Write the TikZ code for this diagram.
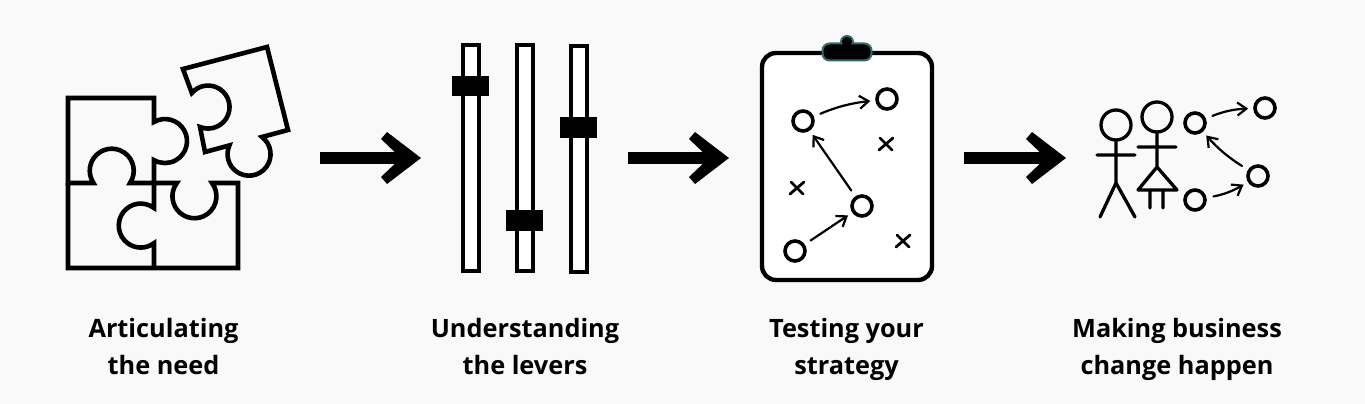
\documentclass[tikz,border=0pt]{standalone}
\usepackage{fontspec}
\setmainfont{Open Sans}[BoldFont={Open Sans Bold}]
\definecolor{bgc}{HTML}{F9F9F9}
\definecolor{tealc}{HTML}{2F6F6A}
\usetikzlibrary{arrows.meta}
\tikzset{
  ln/.style={line width=4.6pt,line join=miter,draw=black},
  thinarrow/.style={line width=2.2pt,-{Straight Barb[length=9pt,width=13pt,line width=2.2pt]},line cap=round,shorten <=7pt,shorten >=5pt},
  peg/.style={circle,draw=black,line width=3.6pt,fill=none,inner sep=0pt,minimum size=20pt},
  crossmark/.style={line width=2.8pt,line cap=round},
  slider/.style={line width=3.6pt,fill=white},
  person/.style={line width=3.3pt,line cap=round,line join=round},
  biglabel/.style={align=center,font=\fontsize{25.3}{37.5}\selectfont\bfseries,text=black,inner sep=0pt}
}
\newcommand{\crossat}[2]{\draw[crossmark] (#1-7,#2-6) -- (#1+7,#2+6) (#1-6,#2+6) -- (#1+6,#2-6);}
\begin{document}
\begin{tikzpicture}[x=1pt,y=1pt]
\useasboundingbox (0,0) rectangle (1365,404);
\fill[bgc] (0,0) rectangle (1365,404);
% puzzle
\draw[ln] (68,306) -- (154,306) -- (154,282) arc[start angle=120,end angle=-120,radius=22] -- (154,221) -- (130,221) arc[start angle=-34,end angle=214,radius=22] -- (68,221) -- cycle;
\draw[ln] (68,221) -- (68,136) -- (238,136) -- (238,221) -- (212,221) arc[start angle=37,end angle=-217,radius=22] -- (154,221) -- (154,196) arc[start angle=53,end angle=307,radius=22] -- (154,136);
\draw[ln] (183,335) -- (267,357) -- (288,274) -- (262,267) arc[start angle=53,end angle=-204,radius=21.5] -- (205,252) -- (200,277) arc[start angle=-112,end angle=139,radius=21.5] -- cycle;
% sliders
\draw[slider] (463,133) rectangle (479,359);
\draw[slider] (517,133) rectangle (533,359);
\draw[slider] (571,132) rectangle (587,358);
\fill (452,308) rectangle (489,328);
\fill (506,173) rectangle (543,194);
\fill (560,266) rectangle (597,287);
% clipboard
\draw[line width=4.4pt,fill=white,rounded corners=14pt] (762,124) rectangle (932,351);
\draw[tealc,line width=2pt,fill=black] (847,362) circle (6pt);
\draw[tealc,line width=2pt,fill=black,rounded corners=7pt] (822.5,343.5) rectangle (871.5,360.5);
\fill[black] (847,362) circle (5pt);
\node[peg] (a) at (803,283) {};
\node[peg] (b) at (887,305) {};
\node[peg] (c) at (862,198) {};
\node[peg] (d) at (795,153) {};
\draw[thinarrow] (a) to[bend left=8] (b);
\draw[thinarrow] (c) -- (a);
\draw[thinarrow] (d) -- (c);
\crossat{886}{260}
\crossat{797}{216}
\crossat{903}{163}
% people
\draw[person] (1116,279) circle (15pt);
\draw[person] (1157,287) circle (15pt);
\draw[person] (1116,264) -- (1116,221) (1097,249) -- (1135,249) (1100,187) -- (1116,221) -- (1135,187);
\draw[person] (1157,272) -- (1157,237) (1138,257) -- (1176,257) (1157,237) -- (1138,214) -- (1177,214) -- cycle (1150,214) -- (1150,196) (1163,214) -- (1163,196);
\node[peg] (e) at (1195,281) {};
\node[peg] (f) at (1265,296) {};
\node[peg] (g) at (1258,228) {};
\node[peg] (h) at (1195,204) {};
\draw[thinarrow] (e) to[bend left=10] (f);
\draw[thinarrow] (g) to[bend left=8] (e);
\draw[thinarrow] (h) to[bend right=10] (g);
% block arrows
\coordinate (s1) at (320,246); \coordinate (t1) at (421,246);
\coordinate (s2) at (628,246); \coordinate (t2) at (729,246);
\coordinate (s3) at (964,246); \coordinate (t3) at (1066,246);
\foreach \s/\t in {s1/t1,s2/t2,s3/t3}{
  \draw[line width=12.7pt] (\s) -- ([xshift=-15pt]\t);
  \fill (\t) -- ++(-34,26) -- ++(-6,-7) -- ++(20,-19) -- ++(-20,-19) -- ++(6,-7) -- cycle;
}
% labels
\node[biglabel,anchor=base] (l1) at (163.5,66) {Articulating};
\node[biglabel,anchor=base] (l1b) at (163.5,29) {the need};
\node[biglabel,anchor=base] (l2) at (525,66) {Understanding};
\node[biglabel,anchor=base] (l2b) at (525,29) {the levers};
\node[biglabel,anchor=base] (l3) at (846.5,66) {Testing your};
\node[biglabel,anchor=base] (l3b) at (846.5,29) {strategy};
\node[biglabel,anchor=base] (l4) at (1177,66) {Making business};
\node[biglabel,anchor=base] (l4b) at (1177,29) {change happen};
\end{tikzpicture}
\end{document}
